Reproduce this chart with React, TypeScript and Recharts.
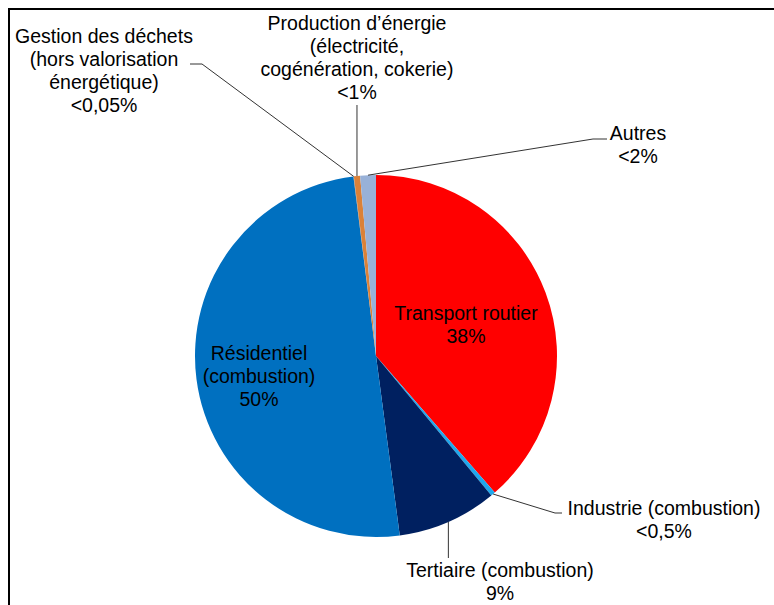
import React from "react";
import { PieChart, Pie, Cell } from "recharts";

// slices, clockwise from 12 o'clock
const categories = [
  "Transport routier",
  "Industrie (combustion)",
  "Tertiaire (combustion)",
  "Résidentiel (combustion)",
  "Gestion des déchets",
  "Production d'énergie",
  "Autres",
];
const values = [38.6, 0.4, 8.9, 50.1, 0.04, 0.55, 1.4];
const pctLabels = ["38%", "<0,5%", "9%", "50%", "<0,05%", "<1%", "<2%"];
const labelLines = [
  ["Transport routier"],
  ["Industrie (combustion)"],
  ["Tertiaire (combustion)"],
  ["Résidentiel", "(combustion)"],
  ["Gestion des déchets", "(hors valorisation", "énergétique)"],
  ["Production d\u2019énergie", "(électricité,", "cogénération, cokerie)"],
  ["Autres"],
];
const colors = ["#FF0000", "#1FA8EC", "#002060", "#0070C0", "#7F7F7F", "#DB8138", "#98B1D8"];

// label placement relative to pie centre (first text line centre) + leader lines
type Lay = { dx: number; dy: number; leader?: { elbow?: [number, number]; end: [number, number]; vertical?: boolean } };
const layout: Lay[] = [
  { dx: 90, dy: -43 },
  { dx: 288, dy: 152, leader: { elbow: [179, 157], end: [186, 157] } },
  { dx: 124, dy: 214, leader: { vertical: true, end: [0, 202] } },
  { dx: -117, dy: -3 },
  { dx: -272, dy: -320, leader: { elbow: [-174, -292], end: [-186, -292] } },
  { dx: -19, dy: -333, leader: { vertical: true, end: [0, -251] } },
  { dx: 262, dy: -223, leader: { elbow: [217, -217], end: [231, -217] } },
];

const W = 774;
const H = 605;
const LINE_H = 23;
const RAD = Math.PI / 180;

const data = categories.map((name, i) => ({ name, value: values[i] }));

function renderLabel(props: any) {
  const { cx, cy, midAngle, outerRadius, index } = props;
  const lay = layout[index];
  const lines = [...labelLines[index], pctLabels[index]];
  const ex = cx + Math.cos(-midAngle * RAD) * outerRadius;
  const ey = cy + Math.sin(-midAngle * RAD) * outerRadius;
  let path = "";
  if (lay.leader) {
    const l = lay.leader;
    if (l.vertical) {
      path = `M${ex},${ey}L${ex},${cy + l.end[1]}`;
    } else {
      const el = l.elbow!;
      path = `M${ex},${ey}L${cx + el[0]},${cy + el[1]}L${cx + l.end[0]},${cy + l.end[1]}`;
    }
  }
  return (
    <g key={`lbl-${index}`}>
      {path && <path d={path} stroke="#333" strokeWidth={1} fill="none" />}
      <text
        textAnchor="middle"
        fontFamily="'Liberation Sans', Arial, sans-serif"
        fontSize={19.5}
        fill="#000"
      >
        {lines.map((t, i) => (
          <tspan key={i} x={cx + lay.dx} y={cy + lay.dy + i * LINE_H} dominantBaseline="central">
            {t}
          </tspan>
        ))}
      </text>
    </g>
  );
}

export default function App() {
  return (
    <div
      style={{
        position: "absolute",
        left: 0,
        top: 0,
        width: W,
        height: H,
        overflow: "hidden",
        background: "#fff",
      }}
    >
      <div
        style={{
          position: "absolute",
          left: 7.5,
          top: 7.5,
          width: 820,
          height: 700,
          borderLeft: "2px solid #000",
          borderTop: "2px solid #000",
        }}
      />
      <div style={{ position: "absolute", left: 0, top: 0 }}>
        <PieChart width={W} height={H} margin={{ top: 0, right: 0, bottom: 0, left: 0 }}>
          <Pie
            data={data}
            dataKey="value"
            nameKey="name"
            cx={376}
            cy={356}
            outerRadius={181}
            startAngle={90}
            endAngle={-270}
            stroke="none"
            label={renderLabel}
            labelLine={false}
            isAnimationActive={false}
          >
            {data.map((d, i) => (
              <Cell key={d.name} fill={colors[i]} />
            ))}
          </Pie>
        </PieChart>
      </div>
    </div>
  );
}
